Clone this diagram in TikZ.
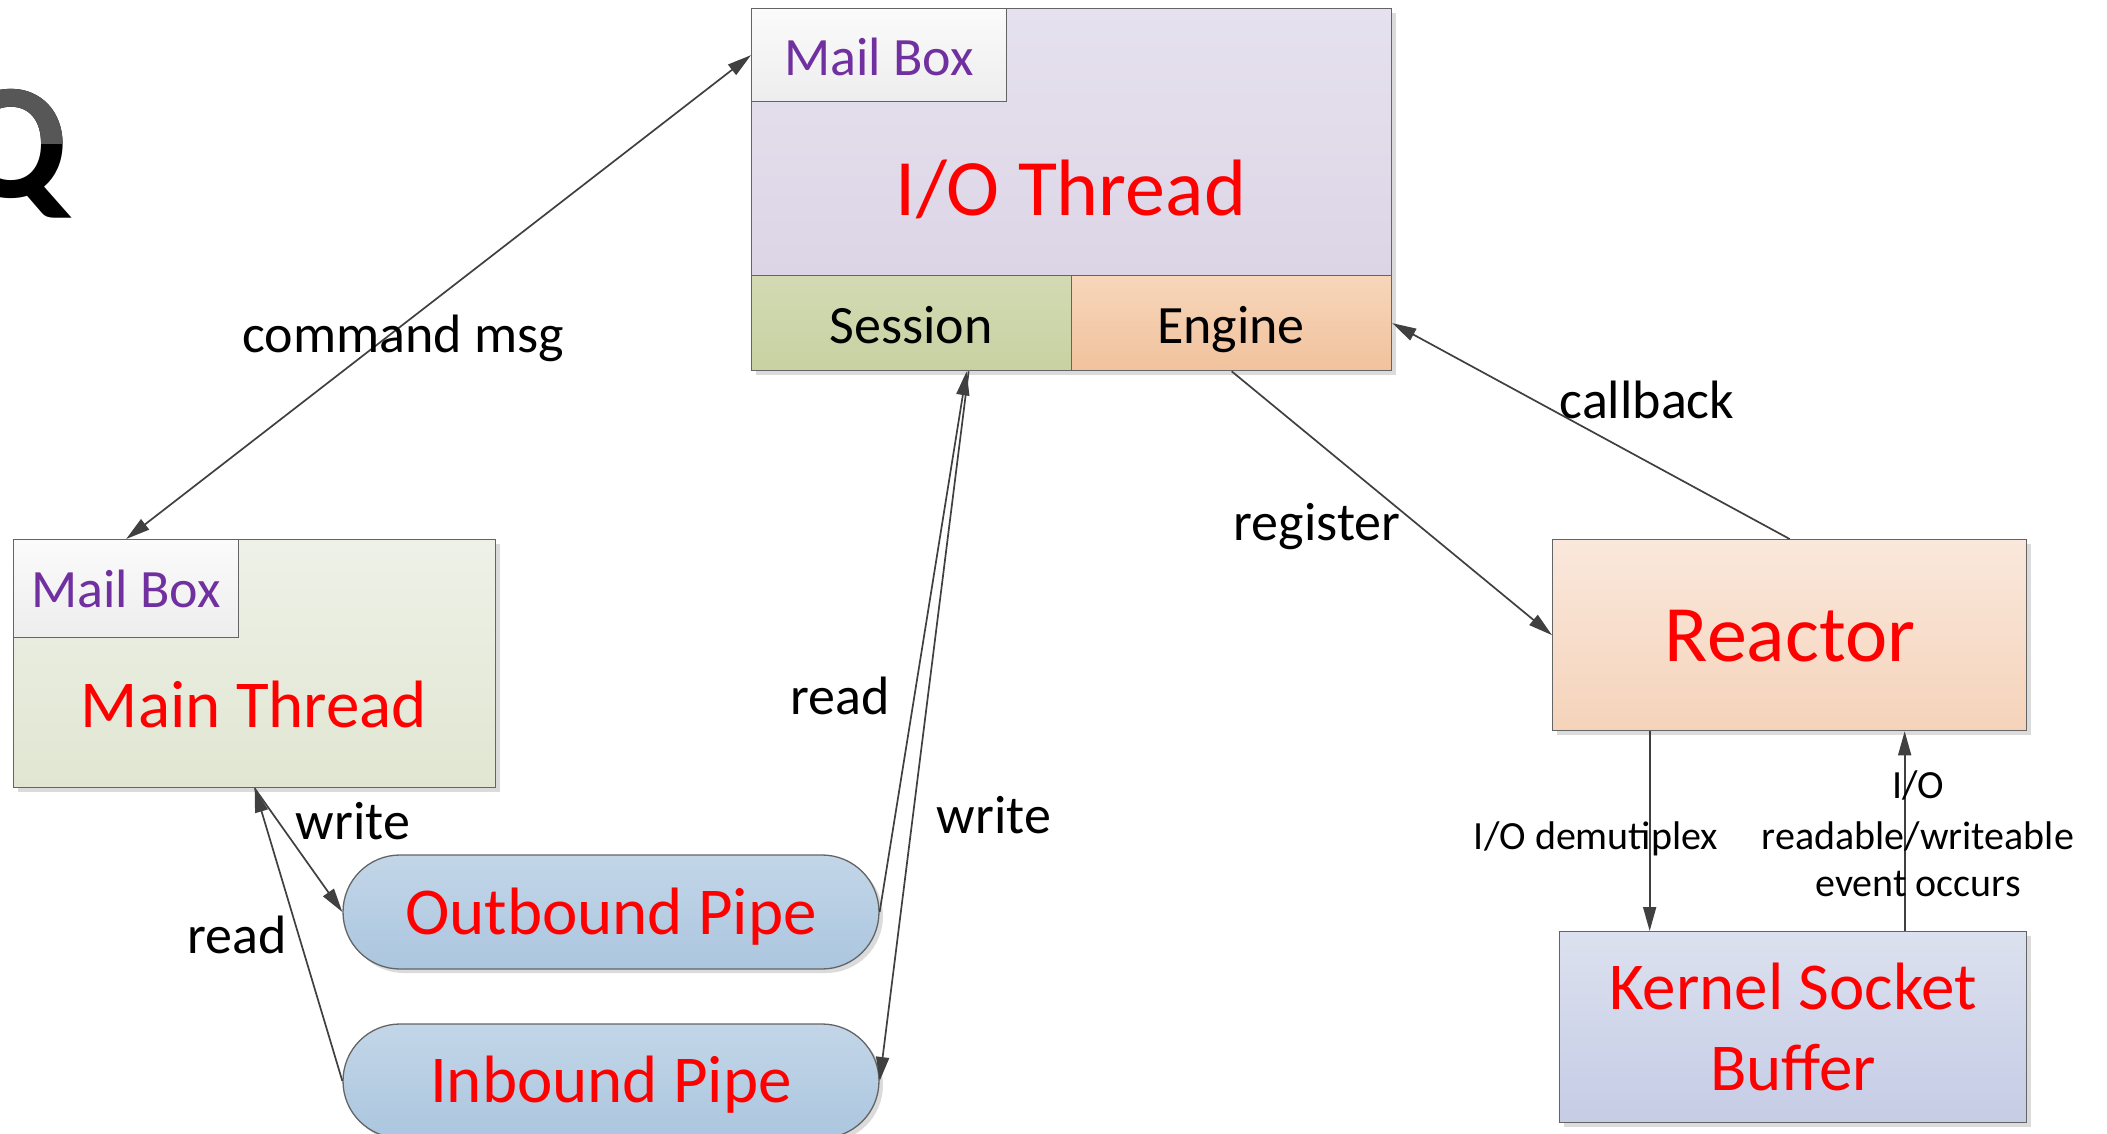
\documentclass[tikz,border=0pt]{standalone}
\usepackage{fontspec}
\setmainfont{Carlito}
\usetikzlibrary{arrows.meta,shapes.misc,shadows}

\definecolor{boxline}{HTML}{646464}
\definecolor{conn}{HTML}{404040}
\definecolor{titlered}{HTML}{FF0000}
\definecolor{mailpurple}{HTML}{7030A0}
\definecolor{pipetop}{HTML}{C3D6E8}
\definecolor{pipebot}{HTML}{ABC6DF}
\definecolor{iotop}{HTML}{E6E1EE}
\definecolor{iobot}{HTML}{DCD5E6}
\definecolor{mbtopc}{HTML}{FBFBFB}
\definecolor{mbbotc}{HTML}{EDEDED}
\definecolor{sesstop}{HTML}{D3DAB3}
\definecolor{sessbot}{HTML}{C7D2A2}
\definecolor{engtop}{HTML}{F7D6BA}
\definecolor{engbot}{HTML}{F1C29D}
\definecolor{maintop}{HTML}{EEF1E7}
\definecolor{mainbot}{HTML}{E1E6D2}
\definecolor{reacttop}{HTML}{FAE8DC}
\definecolor{reactbot}{HTML}{F5D3BA}
\definecolor{kerntop}{HTML}{DCE1EF}
\definecolor{kernbot}{HTML}{C5CCE5}

\tikzset{
  box/.style={draw=boxline, line width=1.3pt, inner sep=0pt, anchor=north west,
    drop shadow={shadow xshift=4pt, shadow yshift=-4pt, fill=black!14, opacity=1}},
  flat/.style={draw=boxline, line width=1.3pt, inner sep=0pt, anchor=north west},
  pipe/.style={rounded rectangle, draw=boxline, line width=1.3pt, inner sep=0pt,
    anchor=center, top color=pipetop, bottom color=pipebot,
    minimum width=536pt, minimum height=114pt,
    drop shadow={shadow xshift=4pt, shadow yshift=-4pt, fill=black!14, opacity=1}},
  txt/.style={inner sep=0pt, anchor=base},
  huge/.style={txt, text=titlered, font=\fontsize{80}{96}\selectfont},
  big/.style={txt, text=titlered, font=\fontsize{67}{82}\selectfont},
  mail/.style={txt, text=mailpurple, font=\fontsize{54}{64}\selectfont},
  lab/.style={txt, text=black, font=\fontsize{54}{64}\selectfont},
  small/.style={txt, text=black, font=\fontsize{40}{49}\selectfont},
  link/.style={draw=conn, line width=1.7pt, -{Triangle[length=24pt,width=13pt]}},
  twoway/.style={draw=conn, line width=1.7pt, {Triangle[length=24pt,width=13pt]}-{Triangle[length=24pt,width=13pt]}},
}

\begin{document}
\begin{tikzpicture}[x=1pt,y=-1pt]
\useasboundingbox (0,0) rectangle (2107,1134);
\fill[white] (0,0) rectangle (2107,1134);

% title letter, grey above and black below
\node[txt, anchor=base east, text=black, font=\fontsize{165}{190}\selectfont\bfseries] (qlow) at (68,198) {Q};
\begin{scope}
  \clip (-100,0) rectangle (200,144);
  \node[txt, anchor=base east, text=black!66, font=\fontsize{165}{190}\selectfont\bfseries] (qhigh) at (68,198) {Q};
\end{scope}

% I/O thread
\node[box, top color=iotop, bottom color=iobot, minimum width=640pt, minimum height=267pt] (iothread) at (751,8) {};
\node[flat, top color=mbtopc, bottom color=mbbotc, minimum width=255pt, minimum height=93pt] (mbtop) at (751,8) {};
\node[box, top color=sesstop, bottom color=sessbot, minimum width=320pt, minimum height=95pt] (session) at (751,275) {};
\node[box, top color=engtop, bottom color=engbot, minimum width=320pt, minimum height=95pt] (engine) at (1071,275) {};
\node[mail] (mbtoptext) at (879,76) {Mail Box};
\node[huge] (iotext) at (1071,216) {I/O Thread};
\node[lab] (sesstext) at (911,343) {Session};
\node[lab] (engtext) at (1231,343) {Engine};

% main thread
\node[box, top color=maintop, bottom color=mainbot, minimum width=482pt, minimum height=248pt] (mainbox) at (13,539) {};
\node[flat, top color=mbtopc, bottom color=mbbotc, minimum width=225pt, minimum height=98pt] (mbleft) at (13,539) {};
\node[mail] (mblefttext) at (126,607) {Mail Box};
\node[big] (maintext) at (254,727) {Main Thread};

% pipes
\node[pipe] (outpipe) at (611,912) {};
\node[pipe] (inpipe) at (611,1081) {};
\node[big] (outtext) at (611,934) {Outbound Pipe};
\node[big] (intext) at (611,1102) {Inbound Pipe};

% reactor and kernel buffer
\node[box, top color=reacttop, bottom color=reactbot, minimum width=474pt, minimum height=191pt] (reactor) at (1552,539) {};
\node[box, top color=kerntop, bottom color=kernbot, minimum width=467pt, minimum height=191pt] (kernel) at (1559,931) {};
\node[huge] (reacttext) at (1790,661) {Reactor};
\node[big] (kern1) at (1793,1009) {Kernel Socket};
\node[big] (kern2) at (1793,1090) {Buffer};

% connectors
\draw[twoway] (mbleft.north) -- (mbtop.west);
\draw[link] (reactor.north) -- (engine.east);
\draw[link] (engine.south) -- (reactor.west);
\draw[link] (outpipe.east) -- ([xshift=55pt]session.south);
\draw[link] ([xshift=57pt]session.south) -- (inpipe.east);
\draw[link] (mainbox.south) -- (outpipe.west);
\draw[link] (inpipe.west) -- (mainbox.south);
\draw[link] ([xshift=-140pt]reactor.south) -- ([xshift=-143.5pt]kernel.north);
\draw[link] ([xshift=111.5pt]kernel.north) -- ([xshift=115pt]reactor.south);

% connector labels
\node[lab] (lcmd) at (403,352) {command msg};
\node[lab] (lcb) at (1647,418) {callback};
\node[lab] (lreg) at (1317,540) {register};
\node[lab] (lread1) at (840,714) {read};
\node[lab] (lwrite1) at (994,833) {write};
\node[lab] (lwrite2) at (353,839) {write};
\node[lab] (lread2) at (237,953) {read};
\node[small] (ldemux) at (1596,849) {I/O demutiplex};
\node[small] (lev1) at (1918,798) {I/O};
\node[small] (lev2) at (1918,849) {readable/writeable};
\node[small] (lev3) at (1918,896) {event occurs};
\end{tikzpicture}
\end{document}
